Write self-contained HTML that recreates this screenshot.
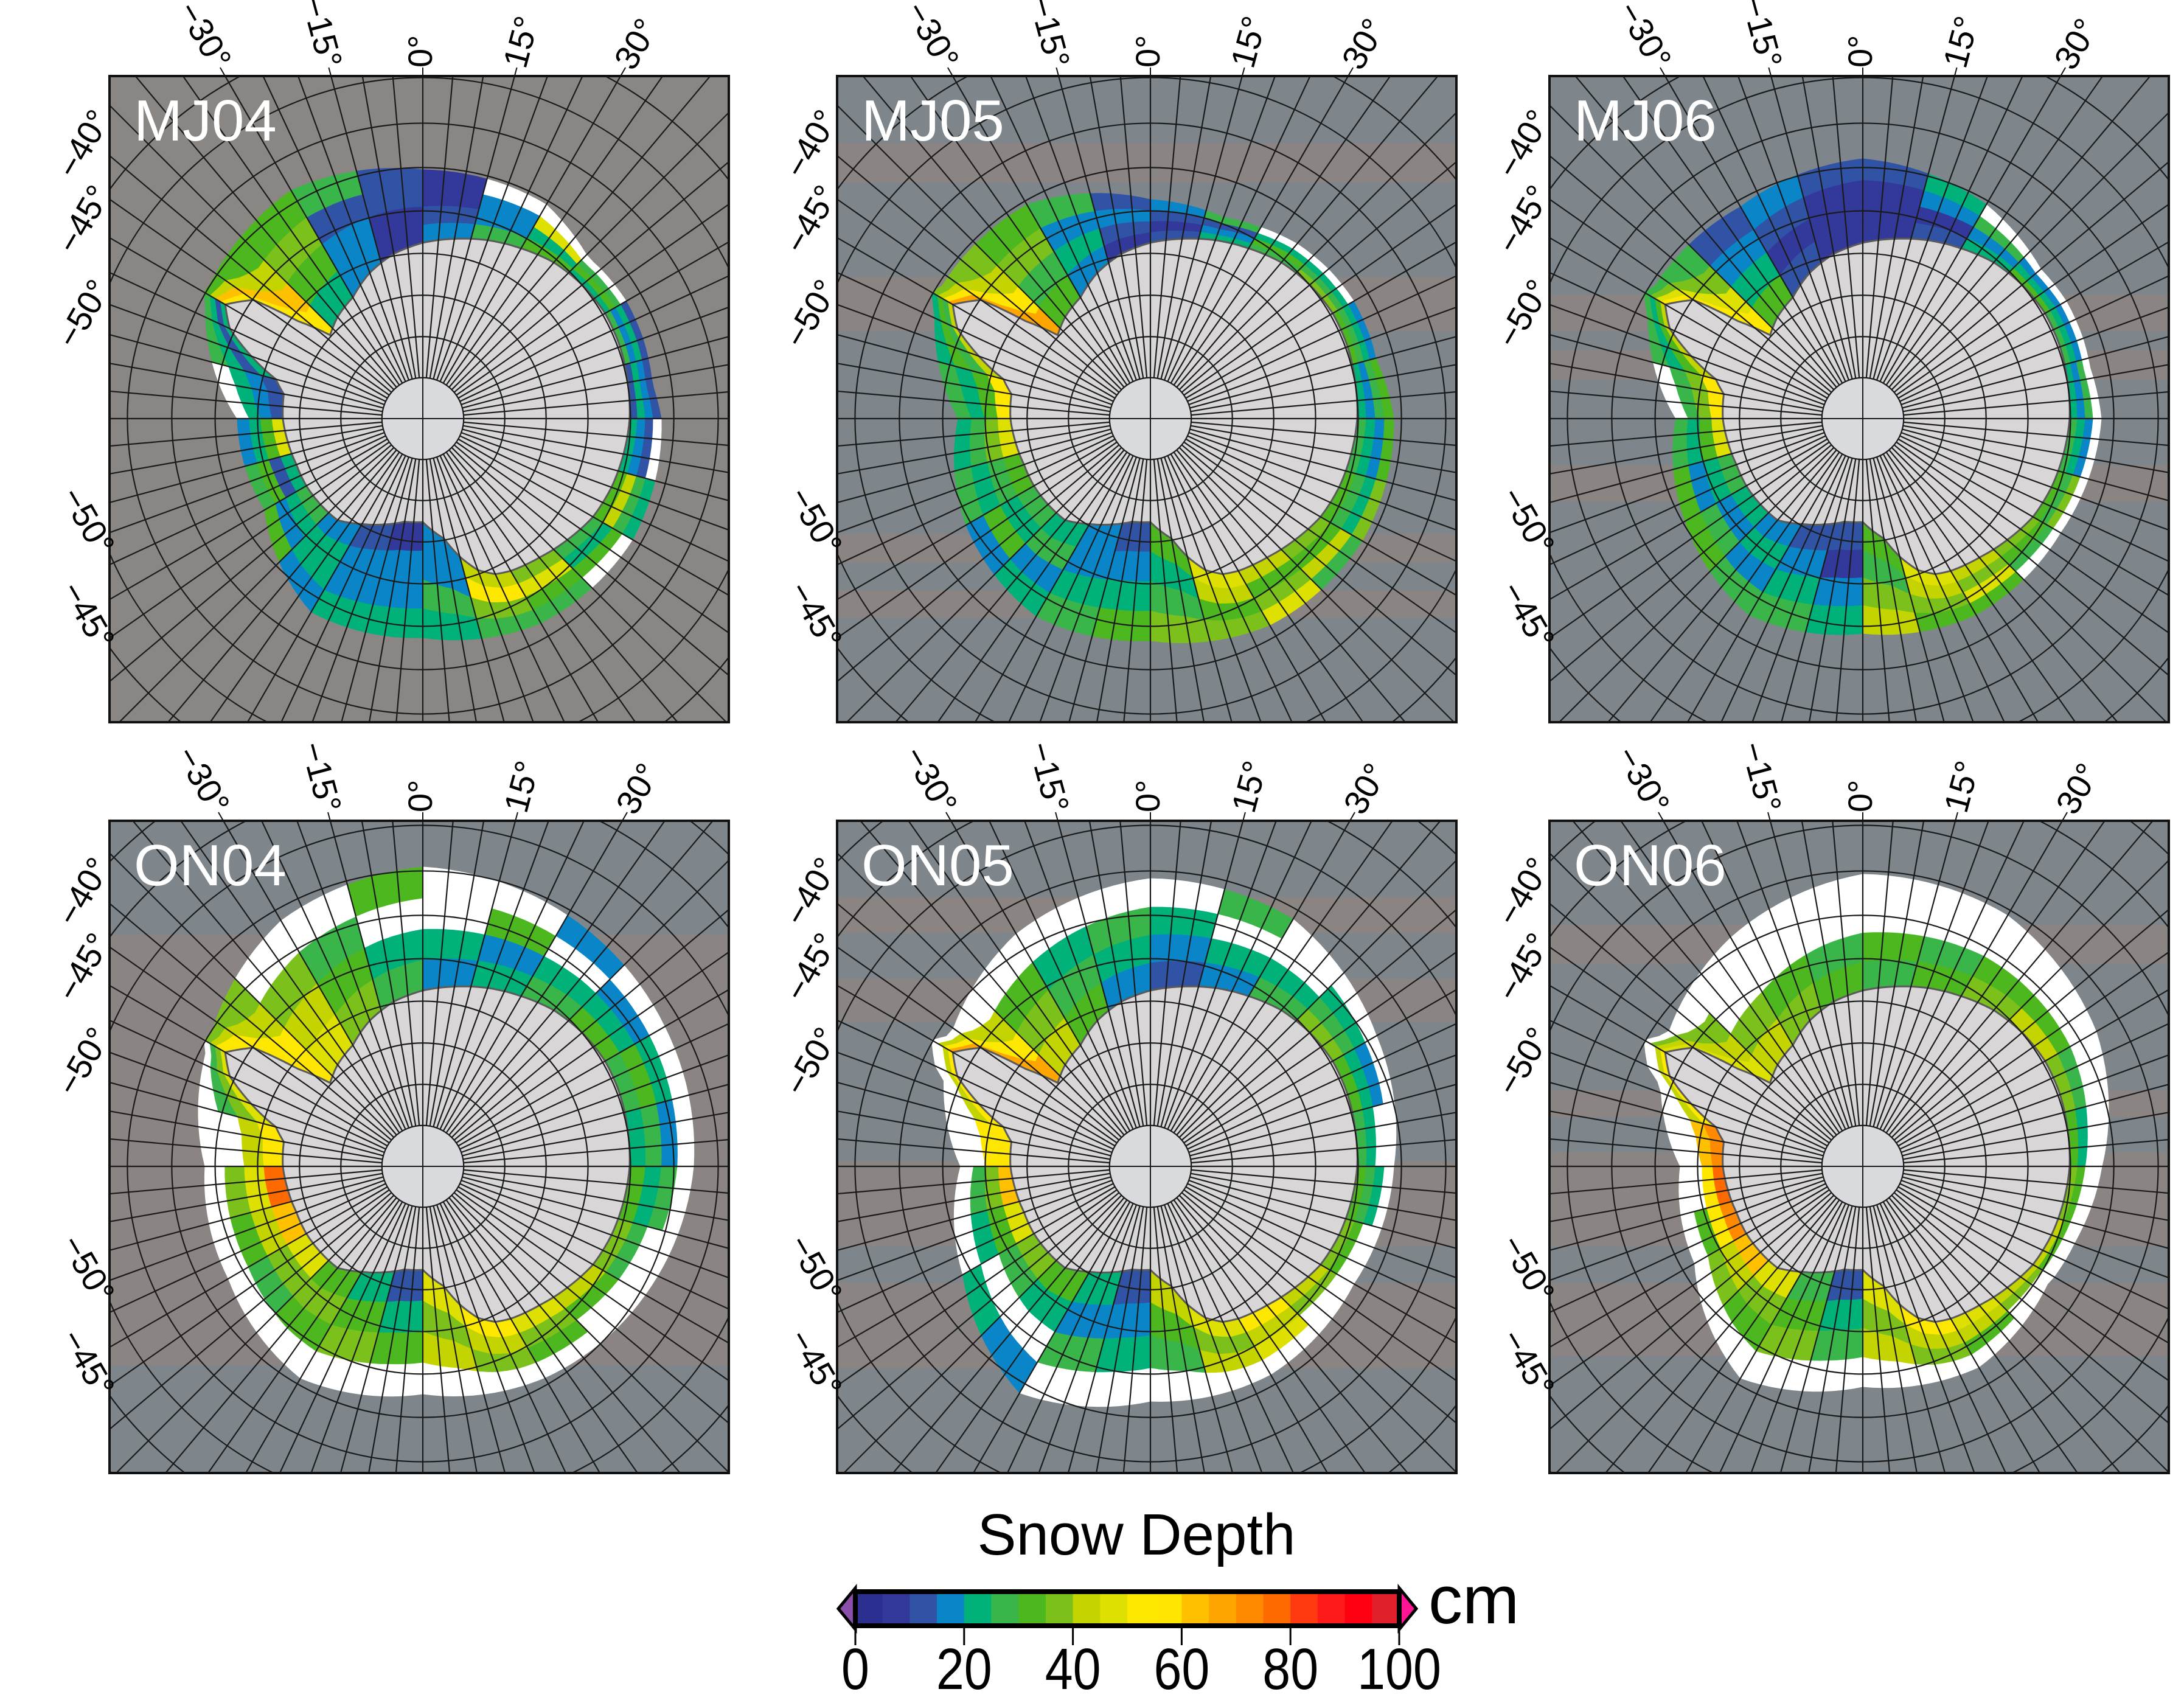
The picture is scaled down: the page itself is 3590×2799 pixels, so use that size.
<!DOCTYPE html>
<html><head><meta charset="utf-8"><title>Snow Depth</title>
<style>html,body{margin:0;padding:0;background:#fff;overflow:hidden}svg{display:block}</style></head>
<body>
<svg id="fig" xmlns="http://www.w3.org/2000/svg" width="3590" height="2799" viewBox="0 0 3590 2799" font-family="'Liberation Sans', sans-serif">
<rect width="3590" height="2799" fill="#fff"/>
<g id="panels"></g>
<g id="cbar"></g>
</svg>
<script>
// ---- data: snow depth per sector (24 sectors of 15° lon starting at 0°, clockwise) x 4 rings (coast -> ice edge); -1 = no data
const mj04 = [[15,10,5,5],[25,15,15,-1],[30,20,45,-1],[20,30,25,-1],[25,15,20,10],[10,20,15,10],[20,15,10,-1],[30,40,25,20],[25,20,30,-1],[35,45,30,25],[40,50,35,25],[15,15,25,20],[5,15,15,20],[10,15,15,20],[15,20,20,15],[25,20,15,30],[20,10,30,25],[45,30,20,15],[10,15,20,-1],[20,10,20,25],[55,60,40,30],[20,30,35,30],[15,15,10,25],[5,5,10,10]];
const mj05 = [[10,5,10,15],[20,15,10,25],[25,30,20,-1],[35,25,20,-1],[30,25,20,15],[20,15,25,30],[25,20,15,30],[30,25,20,35],[35,30,40,25],[40,30,35,45],[45,40,30,35],[30,20,25,35],[10,15,20,30],[15,15,20,25],[20,25,15,20],[25,20,30,15],[30,25,20,25],[45,35,25,20],[50,30,20,25],[40,25,30,20],[65,55,40,35],[30,25,35,30],[15,20,15,25],[5,10,15,10]];
const mj06 = [[5,5,5,10],[10,5,15,20],[20,15,25,-1],[30,20,15,-1],[25,20,15,-1],[20,15,25,-1],[25,20,15,-1],[30,25,35,-1],[35,30,25,-1],[40,35,45,30],[45,40,35,30],[30,25,35,40],[10,5,15,20],[10,15,20,25],[15,20,15,25],[20,15,25,30],[25,20,15,30],[45,30,20,25],[55,35,25,-1],[40,30,20,25],[50,45,35,25],[30,20,15,10],[10,5,10,15],[5,5,5,10]];
const on04 = [[15,20,-1,-1],[20,15,30,-1],[25,20,-1,15],[30,20,15,-1],[25,30,20,-1],[20,25,15,-1],[30,20,25,-1],[35,25,-1,-1],[40,30,-1,-1],[45,35,30,-1],[50,40,35,-1],[45,35,40,-1],[10,20,30,-1],[20,30,35,-1],[30,35,30,-1],[45,35,25,-1],[60,40,30,-1],[75,45,35,-1],[55,40,-1,-1],[45,35,25,-1],[55,50,40,35],[45,40,35,-1],[35,30,25,-1],[25,20,-1,30]];
const on05 = [[10,15,20,-1],[15,20,-1,25],[25,20,-1,-1],[35,25,20,-1],[30,20,15,-1],[25,20,-1,-1],[30,25,20,-1],[35,30,-1,-1],[40,35,-1,-1],[50,40,45,-1],[45,35,40,-1],[40,30,25,-1],[10,15,20,-1],[20,15,25,-1],[30,20,-1,15],[35,25,-1,20],[45,30,20,-1],[60,35,25,-1],[55,50,-1,-1],[55,40,-1,-1],[65,50,40,-1],[40,35,30,-1],[30,25,20,-1],[15,20,25,-1]];
const on06 = [[25,30,-1,-1],[30,25,-1,-1],[35,30,-1,-1],[40,30,-1,-1],[35,25,-1,-1],[30,20,-1,-1],[35,30,-1,-1],[40,30,-1,-1],[40,35,-1,-1],[45,40,30,-1],[50,40,35,-1],[45,35,40,-1],[10,20,25,-1],[25,30,35,-1],[45,35,30,-1],[60,40,35,-1],[70,50,30,-1],[75,55,-1,-1],[70,60,-1,-1],[50,40,-1,-1],[45,40,35,-1],[40,35,-1,-1],[35,30,-1,-1],[30,25,-1,-1]];
// ice edge radius (px) every 30° lon from 0°
const edge04mj = [409,406,355,392,398,388,360,367,300,305,412,433];
const edge05mj = [360,348,367,400,402,392,365,375,350,316,406,406];
const edge06mj = [427,406,370,392,375,372,353,373,337,307,406,402];
const edge04on = [492,476,459,445,422,401,374,402,369,358,406,466];
const edge05on = [473,469,429,400,386,395,386,430,356,312,386,441];
const edge06on = [480,476,443,393,358,381,362,402,319,300,379,434];
const panelNames = ["MJ04","MJ05","MJ06","ON04","ON05","ON06"];
const cbTicks = [0,20,40,60,80,100];
const binColors = ["#2b2f8f","#33399a","#3053a5","#0a86c8","#00b27a","#3ab54a","#4cb71f","#7cc01c","#c4d400","#dde000","#ffe800","#ffe600","#ffc000","#ffa500","#ff8a00","#ff6a00","#ff3a10","#ff1a1a","#ff0010","#e0202a"];

// ---- geometry (not data)
const coast = [[0,289],[10,300],[20,312],[30,323],[40,335],[50,342],[60,346],[70,345],[80,342],[90,340],[100,335],[110,330],[120,323],[130,310],[140,298],[150,289],[155,282],[160,265],[165,235],[170,200],[180,170],[190,172],[200,185],[210,200],[220,218],[240,221],[250,221],[260,225],[270,230],[280,232],[285,250],[290,300],[295,350],[300,375],[305,340],[308,260],[312,205],[320,218],[330,230],[340,255],[350,275],[360,289]];
const K = 1540;
const latR = lat => K*Math.tan((90+lat)/2*Math.PI/180);
const panels = [
 {x:180,y:125,w:1018,h:1062,cy:563,data:mj04,edge:edge04mj,base:"#8a8683",bands:[]},
 {x:1376,y:125,w:1018,h:1062,cy:563,data:mj05,edge:edge05mj,base:"#7e868b",bands:[[110,175],[330,420],[753,800],[845,890]]},
 {x:2547,y:125,w:1018,h:1062,cy:563,data:mj06,edge:edge06mj,base:"#7e868b",bands:[[360,420],[450,500],[640,700]]},
 {x:180,y:1349,w:1018,h:1072,cy:568,data:on04,edge:edge04on,base:"#7e868b",bands:[[187,895]]},
 {x:1376,y:1349,w:1018,h:1072,cy:568,data:on05,edge:edge05on,base:"#7e868b",bands:[[125,185],[260,330],[560,700],[760,900]]},
 {x:2547,y:1349,w:1018,h:1072,cy:568,data:on06,edge:edge06on,base:"#7e868b",bands:[[171,236],[444,487],[545,700],[760,880]]}
];
const NS="http://www.w3.org/2000/svg";
function mk(tag, attrs, parent){const e=document.createElementNS(NS,tag);for(const k in attrs)e.setAttribute(k,attrs[k]);parent.appendChild(e);return e;}
function coastR(a){a=((a%360)+360)%360;for(let i=0;i<coast.length-1;i++){const p=coast[i],q=coast[i+1];if(a>=p[0]&&a<=q[0]){const t=(a-p[0])/(q[0]-p[0]);return p[1]+t*(q[1]-p[1]);}}return 289;}
function edgeR(arr,a){a=((a%360)+360)%360;const i=Math.floor(a/30),t=(a-i*30)/30;return arr[i%12]+t*(arr[(i+1)%12]-arr[i%12]);}
function colorOf(v){if(v<0)return "#ffffff";let b=Math.floor(v/5);b=Math.max(0,Math.min(19,b));return binColors[b];}

const root=document.getElementById("panels");
panels.forEach((P,pi)=>{
  const cx=P.x+515, cy=P.y+P.cy;
  const pt=(r,a)=>[cx+r*Math.sin(a*Math.PI/180), cy-r*Math.cos(a*Math.PI/180)];
  const g=mk("g",{},root);
  
  
  const cp=mk("clipPath",{id:"clip"+pi},g);
  mk("rect",{x:P.x,y:P.y,width:P.w,height:P.h},cp);
  const inner=mk("g",{"clip-path":"url(#clip"+pi+")"},g);
  const bg=mk("rect",{x:P.x,y:P.y,width:P.w,height:P.h,fill:P.base},inner);
  
  
  P.bands.forEach(b=>{
    const br=mk("rect",{x:P.x,y:P.y+b[0],width:P.w,height:b[1]-b[0],fill:"#8a8582"},inner);
    
    
  });
  P.data.forEach((rings,k)=>{
    rings.forEach((v,j)=>{
      const outer=[],inn=[];
      for(let a=k*15;a<=k*15+15.001;a+=2.5){
        const c=coastR(a), e=Math.max(edgeR(P.edge,a),c+40);
        const r0=j===0?c-20:c+(e-c)*j/4, r1=c+(e-c)*(j+1)/4;
        outer.push(pt(r1,a)); inn.unshift(pt(r0,a));
      }
      const pts=outer.concat(inn).map(p=>p[0].toFixed(1)+","+p[1].toFixed(1)).join(" ");
      const cell=mk("polygon",{points:pts,fill:colorOf(v),stroke:colorOf(v),"stroke-width":1},inner);
      
      
    });
  });
  const cpts=[];for(let a=0;a<360;a+=1){cpts.push(pt(coastR(a),a));}
  const cont=mk("polygon",{points:cpts.map(p=>p[0].toFixed(1)+","+p[1].toFixed(1)).join(" "),fill:"#d8d6d6",stroke:"#5a5a5a","stroke-width":3},inner);
  
  
  const grid=mk("g",{stroke:"#1a1a1a","stroke-width":2.2,fill:"none"},inner);
  
  
  for(let lat=-80;lat<=-30;lat+=5){
    const r=latR(lat);
    if(cy+r>2795||cy-r<0)continue;
    const c=mk("circle",{cx:cx,cy:cy,r:r},grid);
    
    
  }
  for(let lon=0;lon<360;lon+=5){
    const s=Math.sin(lon*Math.PI/180), c=-Math.cos(lon*Math.PI/180);
    let tmax=1e9;
    if(s>1e-9)tmax=Math.min(tmax,(P.x+P.w-cx)/s); else if(s<-1e-9)tmax=Math.min(tmax,(P.x-cx)/s);
    if(c>1e-9)tmax=Math.min(tmax,(P.y+P.h-cy)/c); else if(c<-1e-9)tmax=Math.min(tmax,(P.y-cy)/c);
    const p0=pt(latR(-85),lon),p1=pt(tmax,lon);
    const l=mk("line",{x1:p0[0],y1:p0[1],x2:p1[0],y2:p1[1]},grid);
    
    
  }
  const pole=mk("circle",{cx:cx,cy:cy,r:latR(-85),fill:"#d8dadd",stroke:"#1a1a1a","stroke-width":2.2},inner);
  
  
  const pl=mk("line",{x1:cx,y1:cy-latR(-85),x2:cx,y2:cy+latR(-85),stroke:"#1a1a1a","stroke-width":2},inner);
  
  
  const pl2=mk("line",{x1:cx-latR(-85),y1:cy,x2:cx+latR(-85),y2:cy,stroke:"#1a1a1a","stroke-width":2},inner);
  
  
  const fr=mk("rect",{x:P.x,y:P.y,width:P.w,height:P.h,fill:"none",stroke:"#111","stroke-width":4},g);
  
  
  const t=mk("text",{x:P.x+40,y:P.y+106,fill:"#fff","font-size":96},g);
  t.textContent=panelNames[pi];
  
  
  [-30,-15,0,15,30].forEach(L=>{
    const yy=P.y-14, tt=(cy-yy)/Math.cos(L*Math.PI/180);
    const xx=cx+tt*Math.sin(L*Math.PI/180);
    const tk=mk("line",{x1:xx,y1:yy,x2:cx+(cy-P.y)/Math.cos(L*Math.PI/180)*Math.sin(L*Math.PI/180),y2:P.y,stroke:"#111","stroke-width":2},g);
    
    
    const lbl=mk("text",{x:xx,y:yy,"font-size":56,fill:"#000","text-anchor":L<0?"end":"start","dominant-baseline":"middle",
      transform:"rotate("+(L<0?90+L:L-90)+" "+xx+" "+yy+")"},g);
    lbl.textContent=(L<0?"\u2212"+(-L):L)+"\u00b0";
    
    
  });
  [[-40,-1],[-45,-1],[-50,-1],[-50,1],[-45,1]].forEach(([lat,s])=>{
    const r=latR(lat), dx=cx-P.x; if(r<dx)return;
    const yy=cy+s*Math.sqrt(r*r-dx*dx), xx=P.x-10;
    const lbl=mk("text",{x:xx,y:yy,"font-size":56,fill:"#000","text-anchor":"end","dominant-baseline":"middle",
      transform:"rotate("+(s<0?-60:60)+" "+xx+" "+yy+")"},g);
    lbl.textContent="\u2212"+(-lat)+"\u00b0";
    
    
  });
});

const cb=document.getElementById("cbar");
const bx0=1406,bx1=2300,by0=2616,by1=2672,bw=(bx1-bx0)/binColors.length;
const xs=v=>bx0+v/100*(bx1-bx0);
const ttl=mk("text",{x:1868,y:2555,"font-size":96,"text-anchor":"middle",fill:"#000"},cb);
ttl.textContent="Snow Depth";


const lt=mk("polygon",{points:`1378,2644 ${bx0},${by0-6} ${bx0},${by1+6}`,fill:"#8a4fa8",stroke:"#000","stroke-width":5},cb);


const rt=mk("polygon",{points:`2328,2644 ${bx1},${by0-6} ${bx1},${by1+6}`,fill:"#ff1493",stroke:"#000","stroke-width":5},cb);


binColors.forEach((c,i)=>{
  const r=mk("rect",{x:bx0+i*bw,y:by0,width:bw+0.5,height:by1-by0,fill:c},cb);
  
  
});
const bf=mk("rect",{x:bx0,y:by0,width:bx1-bx0,height:by1-by0,fill:"none",stroke:"#000","stroke-width":8},cb);


cbTicks.forEach(v=>{
  const l=mk("line",{x1:xs(v),y1:by1,x2:xs(v),y2:2704,stroke:"#000","stroke-width":3},cb);
  
  
  const t=mk("text",{x:0,y:0,"font-size":96,"text-anchor":"middle",fill:"#000",transform:"translate("+xs(v)+",2776) scale(0.86,1)"},cb);
  t.textContent=String(v);
  
  
});
const cm=mk("text",{x:2348,y:2668,"font-size":112,fill:"#000"},cb);
cm.textContent="cm";


</script>
</body></html>
